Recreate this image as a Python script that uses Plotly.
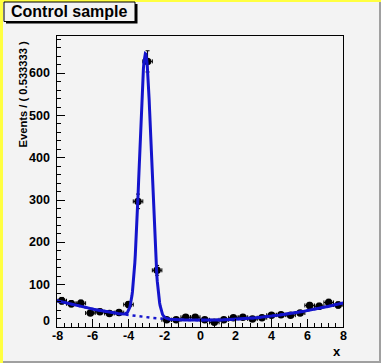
import numpy as np
import plotly.graph_objects as go

# ---- data ----
x_min, x_max, n_bins = -8.0, 8.0, 30
bin_width = (x_max - x_min) / n_bins  # 0.533333
bin_centers = [x_min + bin_width * (i + 0.5) for i in range(n_bins)]
counts = [62, 55, 56, 33, 36, 32, 34, 53, 297, 628,
          134, 17, 17, 23, 23, 17, 11, 17, 22, 23,
          19, 22, 28, 29, 28, 33, 51, 49, 58, 52]

# fitted model parameters (events per bin): gaussian signal + quadratic background
sig_amp, sig_mean, sig_sigma = 623.0, -3.05, 0.333
bkg_coeffs = [16.0, -0.31, 0.68]   # c0 + c1*x + c2*x^2

y_range = [0, 688]
x_ticks = [-8, -6, -4, -2, 0, 2, 4, 6, 8]
x_tick_labels = ["-8", "-6", "-4", "-2", "0", "2", "4", "6", "8"]
y_ticks = [0, 100, 200, 300, 400, 500, 600]
y_tick_labels = ["0", "100", "200", "300", "400", "500", "600"]

title_text = "Control sample"
y_title = "Events / ( 0.533333 )"
x_title = "x"

# ---- layout geometry (pixels) ----
W, H = 381, 363
L, R, T, B = 57, 38, 36, 36
pw, ph = W - L - R, H - T - B

def px(x):
    return (x - L) / pw

def py(y):
    return (H - B - y) / ph

BG = "#f3f3f3"
BLUE = "#1414cc"
FONT = "Liberation Sans"

# ---- model curves ----
xc = np.linspace(x_min, x_max, 600)
bkg = bkg_coeffs[0] + bkg_coeffs[1] * xc + bkg_coeffs[2] * xc ** 2
sig = sig_amp * np.exp(-0.5 * ((xc - sig_mean) / sig_sigma) ** 2)
total = bkg + sig

counts_arr = np.array(counts, dtype=float)
err = np.sqrt(counts_arr)

fig = go.Figure()
fig.add_trace(go.Scatter(
    x=bin_centers, y=counts, mode="markers",
    marker=dict(color="black", size=7.5, symbol="circle"),
    error_y=dict(type="data", array=err, color="black", thickness=1, width=2),
    error_x=dict(type="constant", value=bin_width / 2, color="black", thickness=1, width=2),
    showlegend=False, hoverinfo="skip",
))
fig.add_trace(go.Scatter(
    x=xc, y=total, mode="lines", line=dict(color=BLUE, width=3),
    showlegend=False, hoverinfo="skip",
))
fig.add_trace(go.Scatter(
    x=xc, y=bkg, mode="lines", line=dict(color=BLUE, width=2.5, dash="3px,4px"),
    showlegend=False, hoverinfo="skip",
))

axis_common = dict(
    showgrid=False, zeroline=False, showline=True, linecolor="black", linewidth=1,
    mirror=True, ticks="inside", tickcolor="black", tickwidth=1, showticklabels=False,
)

fig.update_xaxes(
    range=[x_min, x_max], tickvals=x_ticks, ticklen=8,
    minor=dict(dtick=0.4, tick0=x_min, ticks="inside", ticklen=4, tickcolor="black"),
    **axis_common,
)
fig.update_yaxes(
    range=y_range, tickvals=y_ticks, ticklen=8,
    minor=dict(dtick=20, tick0=0, ticks="inside", ticklen=4, tickcolor="black"),
    **axis_common,
)

shapes = [
    # canvas borders
    dict(type="rect", xref="paper", yref="paper", x0=px(0), x1=px(W), y0=py(2), y1=py(0),
         fillcolor="#ffff40", line=dict(width=0), layer="below"),
    dict(type="rect", xref="paper", yref="paper", x0=px(0), x1=px(3), y0=py(H), y1=py(0),
         fillcolor="#ffff40", line=dict(width=0), layer="below"),
    dict(type="rect", xref="paper", yref="paper", x0=px(W - 2), x1=px(W), y0=py(H), y1=py(2),
         fillcolor="#a0a0a0", line=dict(width=0), layer="below"),
    dict(type="rect", xref="paper", yref="paper", x0=px(3), x1=px(W), y0=py(H), y1=py(H - 2),
         fillcolor="#a0a0a0", line=dict(width=0), layer="below"),
    # title box shadow and box
    dict(type="rect", xref="paper", yref="paper", x0=px(6), x1=px(137.5), y0=py(23.5), y1=py(4),
         fillcolor="black", line=dict(width=0)),
    dict(type="rect", xref="paper", yref="paper", x0=px(4), x1=px(135), y0=py(21.5), y1=py(2),
         fillcolor=BG, line=dict(color="black", width=1)),
]

tick_font = dict(family=FONT, size=12.5, color="black")
annotations = [
    dict(text="<b>" + title_text + "</b>", xref="paper", yref="paper",
         x=px(69.5), y=py(11.5), xanchor="center", yanchor="middle", showarrow=False,
         font=dict(family=FONT, size=16, color="black")),
    dict(text="<b>" + y_title + "</b>", xref="paper", yref="paper",
         x=px(23), y=py(39), xanchor="center", yanchor="top", textangle=-90, showarrow=False,
         font=dict(family=FONT, size=11.2, color="black")),
    dict(text="<b>" + x_title + "</b>", xref="paper", yref="paper",
         x=px(343), y=py(351), xanchor="right", yanchor="middle", showarrow=False,
         font=dict(family=FONT, size=13, color="black")),
]
for tv, tl in zip(x_ticks, x_tick_labels):
    annotations.append(dict(
        text="<b>" + tl + "</b>", xref="x", yref="paper", x=tv, y=py(336),
        xanchor="center", yanchor="middle", showarrow=False, font=tick_font,
    ))
for tv, tl in zip(y_ticks, y_tick_labels):
    annotations.append(dict(
        text="<b>" + tl + "</b>", xref="paper", yref="y", x=px(52), y=tv,
        xanchor="right", yanchor="middle", showarrow=False, font=tick_font,
        yshift=6 if tv == 0 else 0,
    ))

fig.update_layout(
    width=W, height=H, margin=dict(l=L, r=R, t=T, b=B, autoexpand=False),
    paper_bgcolor=BG, plot_bgcolor=BG,
    shapes=shapes, annotations=annotations, showlegend=False,
)

fig.write_html("out.html", config={"displayModeBar": False},
               post_script="document.body.style.margin='0px';document.body.style.padding='0px';")
